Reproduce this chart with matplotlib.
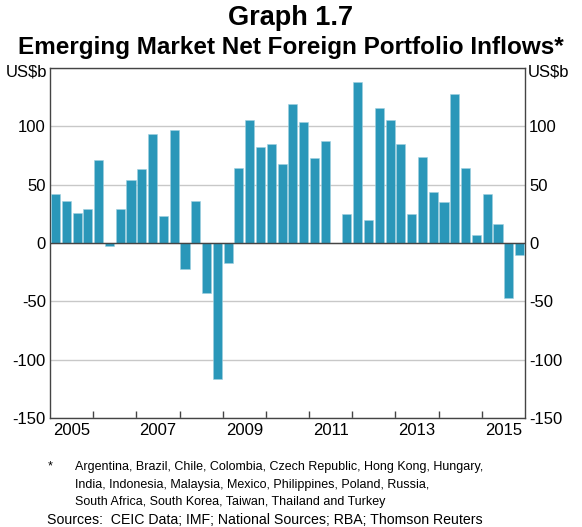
"""
Graph 1.7 - Emerging Market Net Foreign Portfolio Inflows (quarterly, US$b).
"""
import matplotlib
matplotlib.use("Agg")
import matplotlib.pyplot as plt
import numpy as np

plt.rcParams["font.family"] = ["Liberation Sans", "DejaVu Sans"]
plt.rcParams["axes.unicode_minus"] = False

# quarterly values 2005Q1 .. 2015Q4, US$b
inflows = [
    42, 36, 26, 29,      # 2005
    71, -3, 29, 54,      # 2006
    63, 93, 23, 97,      # 2007
    -22, 36, -43, -117,  # 2008
    -17, 64, 105, 82,    # 2009
    85, 68, 119, 104,    # 2010
    73, 87, 0, 25,       # 2011
    138, 20, 116, 105,   # 2012
    85, 25, 74, 44,      # 2013
    35, 128, 64, 7,      # 2014
    42, 16, -47, -10,    # 2015
]
first_year = 2005
year_labels = ["2005", "2007", "2009", "2011", "2013", "2015"]
y_ticks = [-150, -100, -50, 0, 50, 100, 150]
# top label is replaced by the unit text
y_tick_labels = ["-150", "-100", "-50", "0", "50", "100", ""]

BAR_COLOR = "#2a97b9"
AXIS_COLOR = "#444444"
GRID_COLOR = "#c8c8c8"

x = first_year + (np.arange(len(inflows)) + 0.5) / 4
last_year = first_year + len(inflows) // 4

fig = plt.figure(figsize=(5.82, 5.27), dpi=100)
ax = fig.add_axes([0.086, 0.207, 0.816, 0.664])

ax.bar(x, inflows, width=0.21, color=BAR_COLOR, edgecolor="#9fd0e0",
       linewidth=0.4, zorder=3)

ax.set_xlim(first_year, last_year)
ax.set_ylim(-150, 150)
ax.set_yticks(y_ticks)
ax.set_yticklabels(y_tick_labels)
ax.yaxis.grid(True, color=GRID_COLOR, linewidth=1.0, zorder=0)
ax.axhline(0, color=AXIS_COLOR, linewidth=1.0, zorder=4)

# year boundaries as inward ticks, labels centred in the year
ax.set_xticks(range(first_year + 1, last_year))
ax.set_xticklabels([])
ax.tick_params(axis="x", which="major", direction="in", length=5,
               width=1.0, color=AXIS_COLOR)
ax.set_xticks([int(y) + 0.5 for y in year_labels], minor=True)
ax.set_xticklabels(year_labels, minor=True, fontsize=12)
ax.tick_params(axis="x", which="minor", length=0, pad=4)

ax.tick_params(axis="y", length=0, labelsize=12, pad=3,
               labelright=True, right=False)

for sp in ax.spines.values():
    sp.set_color(AXIS_COLOR)
    sp.set_linewidth(1.0)

fig.text(0.081, 0.863, "US$b", ha="right", va="center", fontsize=12)
fig.text(0.907, 0.863, "US$b", ha="left", va="center", fontsize=12)

fig.text(0.5, 0.966, "Graph 1.7", ha="center", va="center",
         fontsize=19.5, fontweight="bold")
fig.text(0.5, 0.909, "Emerging Market Net Foreign Portfolio Inflows*",
         ha="center", va="center", fontsize=17.5, fontweight="bold")

fig.text(0.082, 0.115, "*", ha="left", va="center", fontsize=9)
fig.text(0.129, 0.080,
         "Argentina, Brazil, Chile, Colombia, Czech Republic, Hong Kong, Hungary,\n"
         "India, Indonesia, Malaysia, Mexico, Philippines, Poland, Russia,\n"
         "South Africa, South Korea, Taiwan, Thailand and Turkey",
         ha="left", va="center", fontsize=9, linespacing=1.6)
fig.text(0.081, 0.013, "Sources:  CEIC Data; IMF; National Sources; RBA; Thomson Reuters",
         ha="left", va="center", fontsize=10.2)

fig.savefig("out.png", dpi=100)
